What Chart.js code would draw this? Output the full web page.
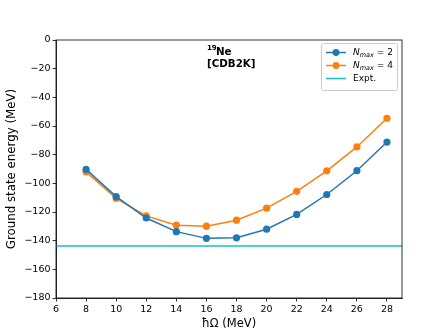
<!DOCTYPE html>
<html>
<head>
<meta charset="utf-8">
<script src="https://cdn.jsdelivr.net/npm/chart.js@4/dist/chart.umd.min.js"></script>
<style>
  html, body { margin: 0; padding: 0; background: #fff; }
  #wrap { width: 447px; height: 335px; }
</style>
</head>
<body>
<div id="wrap"><canvas id="c" width="447" height="335"></canvas></div>
<script>
const hbarOmega = [8, 10, 12, 14, 16, 18, 20, 22, 24, 26, 28];
const nmax2 = [-90.3, -109.3, -124.2, -133.7, -138.4, -138.0, -132.0, -121.7, -107.8, -91.2, -71.2];
const nmax4 = [-92.0, -110.5, -122.7, -129.2, -129.9, -125.7, -117.3, -105.6, -91.3, -74.6, -54.6];
const expt = -143.8;
const xRange = [6, 29];
const yRange = [-180, 0];
const xTickValues = [6, 8, 10, 12, 14, 16, 18, 20, 22, 24, 26, 28];
const yTickValues = [-180, -160, -140, -120, -100, -80, -60, -40, -20, 0];

const FONT = "'DejaVu Sans', sans-serif";
const BLUE = '#1f77b4', ORANGE = '#ff7f0e', CYAN = '#17becf';

const pts = ys => hbarOmega.map((x, i) => ({x, y: ys[i]}));
const minus = v => String(v).replace('-', '\u2212');

const overlay = {
  id: 'overlay',
  afterDraw(chart) {
    const ctx = chart.ctx, a = chart.chartArea;
    ctx.save();
    // frame
    ctx.strokeStyle = '#000';
    ctx.lineWidth = 0.8;
    ctx.strokeRect(a.left, a.top, a.right - a.left, a.bottom - a.top);
    // annotation
    ctx.fillStyle = '#000';
    ctx.textBaseline = 'alphabetic';
    ctx.textAlign = 'left';
    ctx.font = "bold 7px " + FONT;
    ctx.fillText('19', 207, 50);
    ctx.font = "bold 10.3px " + FONT;
    ctx.fillText('Ne', 216, 54.5);
    ctx.fillText('[CDB2K]', 207, 67);
    // legend
    const bx = 321.5, by = 43.5, bw = 76, bh = 47;
    ctx.fillStyle = 'rgba(255,255,255,0.8)';
    ctx.strokeStyle = '#cccccc';
    ctx.lineWidth = 1;
    ctx.beginPath();
    if (ctx.roundRect) ctx.roundRect(bx, by, bw, bh, 2); else ctx.rect(bx, by, bw, bh);
    ctx.fill(); ctx.stroke();
    const rows = [
      {c: BLUE, marker: true, n: '2', y: 52.5},
      {c: ORANGE, marker: true, n: '4', y: 65.5},
      {c: CYAN, marker: false, label: 'Expt.', y: 78.5}
    ];
    rows.forEach(r => {
      ctx.strokeStyle = r.c;
      ctx.lineWidth = 1.5;
      ctx.beginPath(); ctx.moveTo(326, r.y); ctx.lineTo(346, r.y); ctx.stroke();
      if (r.marker) {
        ctx.fillStyle = r.c;
        ctx.beginPath(); ctx.arc(336, r.y, 3.4, 0, Math.PI * 2); ctx.fill();
      }
      ctx.fillStyle = '#000';
      ctx.textBaseline = 'middle';
      let x = 353;
      if (r.label) {
        ctx.font = "9px " + FONT;
        ctx.fillText(r.label, x, r.y);
      } else {
        ctx.font = "italic 9px " + FONT;
        ctx.fillText('N', x, r.y);
        x += ctx.measureText('N').width;
        ctx.font = "italic 6.5px " + FONT;
        ctx.fillText('max', x, r.y + 2.5);
        x += ctx.measureText('max').width;
        ctx.font = "9px " + FONT;
        ctx.fillText(' = ' + r.n, x, r.y);
      }
    });
    ctx.restore();
  }
};

new Chart(document.getElementById('c'), {
  type: 'line',
  data: {
    datasets: [
      {label: 'Nmax = 2', data: pts(nmax2), borderColor: BLUE, backgroundColor: BLUE,
       borderWidth: 1.5, pointRadius: 3.6, pointHoverRadius: 3.6, pointBorderWidth: 0},
      {label: 'Nmax = 4', data: pts(nmax4), borderColor: ORANGE, backgroundColor: ORANGE,
       borderWidth: 1.5, pointRadius: 3.6, pointHoverRadius: 3.6, pointBorderWidth: 0},
      {label: 'Expt.', data: [{x: xRange[0], y: expt}, {x: xRange[1], y: expt}],
       borderColor: CYAN, backgroundColor: CYAN, borderWidth: 1.5, pointRadius: 0}
    ]
  },
  options: {
    responsive: false,
    animation: false,
    events: [],
    layout: {padding: {top: 40, right: 45, left: 0, bottom: 0}},
    plugins: {legend: {display: false}, tooltip: {enabled: false}},
    scales: {
      x: {
        type: 'linear', min: xRange[0], max: xRange[1],
        afterBuildTicks: s => { s.ticks = xTickValues.map(v => ({value: v})); },
        afterFit: s => { s.height = 37; },
        ticks: {color: '#000', font: {family: FONT, size: 9.5}, padding: 2,
                maxRotation: 0, autoSkip: false, callback: v => minus(v)},
        grid: {display: true, drawOnChartArea: false, drawTicks: true, tickLength: 3.5, color: '#000', lineWidth: 0.8},
        border: {display: true, color: '#000', width: 0.8},
        title: {display: true, text: '\u0127\u03A9 (MeV)', color: '#000', font: {family: FONT, size: 11.5}, padding: {top: 1, bottom: 4}}
      },
      y: {
        type: 'linear', min: yRange[0], max: yRange[1],
        afterBuildTicks: s => { s.ticks = yTickValues.map(v => ({value: v})); },
        afterFit: s => { s.width = 56; },
        ticks: {color: '#000', font: {family: FONT, size: 9.5}, padding: 2,
                autoSkip: false, callback: v => minus(v)},
        grid: {display: true, drawOnChartArea: false, drawTicks: true, tickLength: 3.5, color: '#000', lineWidth: 0.8},
        border: {display: true, color: '#000', width: 0.8},
        title: {display: true, text: 'Ground state energy (MeV)', color: '#000', font: {family: FONT, size: 11.8}, padding: {top: 5, bottom: 0}}
      }
    }
  },
  plugins: [overlay]
});
</script>
</body>
</html>
